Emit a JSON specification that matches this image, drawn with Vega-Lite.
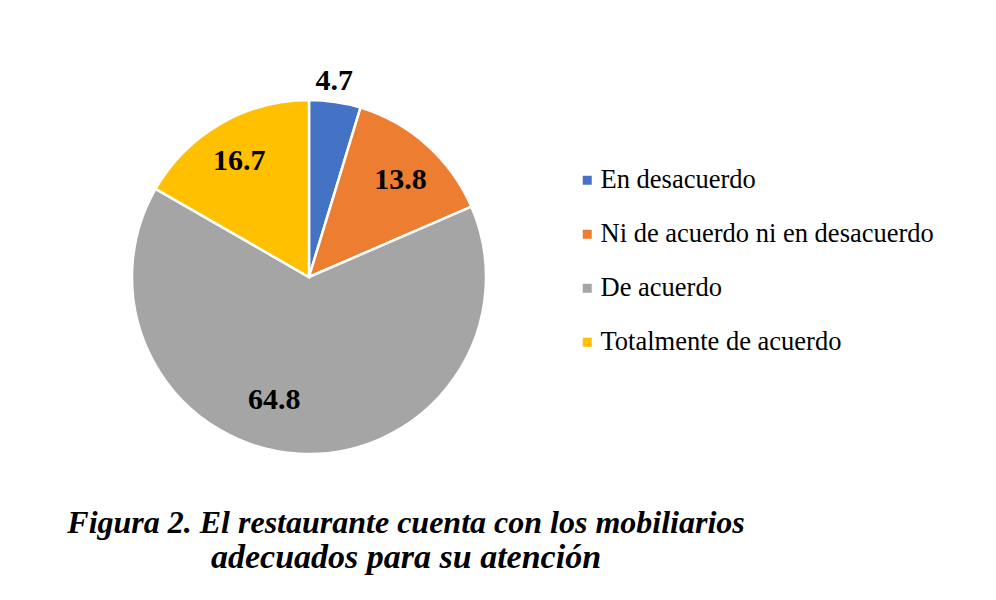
{
  "$schema": "https://vega.github.io/schema/vega-lite/v6.json",
  "autosize": "none",
  "width": 596,
  "height": 530,
  "padding": {"left": 11, "top": 12, "right": 389, "bottom": 58},
  "background": "white",
  "config": {"view": {"stroke": null}},
  "title": {
    "text": "Figura 2. El restaurante cuenta con los mobiliarios",
    "subtitle": "adecuados para su atención",
    "orient": "bottom",
    "anchor": "middle",
    "frame": "group",
    "baseline": "alphabetic",
    "offset": 0,
    "dx": 97,
    "dy": -9,
    "font": "Liberation Serif, Times New Roman, serif",
    "fontSize": 32,
    "fontWeight": "bold",
    "fontStyle": "italic",
    "color": "black",
    "subtitleFont": "Liberation Serif, Times New Roman, serif",
    "subtitleFontSize": 34,
    "subtitleFontWeight": "bold",
    "subtitleFontStyle": "italic",
    "subtitleColor": "black",
    "subtitlePadding": 3
  },
  "data": {
    "values": [
      {"categoria": "En desacuerdo", "valor": 4.7, "orden": 1},
      {"categoria": "Ni de acuerdo ni en desacuerdo", "valor": 13.8, "orden": 2},
      {"categoria": "De acuerdo", "valor": 64.8, "orden": 3},
      {"categoria": "Totalmente de acuerdo", "valor": 16.7, "orden": 4}
    ]
  },
  "encoding": {
    "theta": {"field": "valor", "type": "quantitative", "stack": true},
    "order": {"field": "orden", "type": "quantitative"}
  },
  "layer": [
    {
      "mark": {"type": "arc", "outerRadius": 177, "stroke": "white", "strokeWidth": 2.5},
      "encoding": {
        "color": {
          "field": "categoria",
          "type": "nominal",
          "sort": ["En desacuerdo", "Ni de acuerdo ni en desacuerdo", "De acuerdo", "Totalmente de acuerdo"],
          "scale": {
            "domain": ["En desacuerdo", "Ni de acuerdo ni en desacuerdo", "De acuerdo", "Totalmente de acuerdo"],
            "range": ["#4472C4", "#ED7D31", "#A5A5A5", "#FFC000"]
          },
          "legend": {
            "title": null,
            "orient": "none",
            "legendX": 563,
            "legendY": 155,
            "padding": 0,
            "symbolType": "square",
            "symbolSize": 81,
            "symbolStrokeWidth": 0,
            "labelFont": "Liberation Serif, Times New Roman, serif",
            "labelFontSize": 26.5,
            "labelColor": "black",
            "labelOffset": 0,
            "labelLimit": 500,
            "rowPadding": 27
          }
        }
      }
    },
    {
      "mark": {"type": "text", "radius": 198, "thetaOffset": -0.02, "font": "Liberation Serif, Times New Roman, serif", "fontSize": 30, "fontWeight": "bold", "color": "black"},
      "encoding": {
        "text": {"field": "valor", "type": "quantitative", "format": ".1f"},
        "opacity": {"condition": {"test": "datum.categoria === 'En desacuerdo'", "value": 1}, "value": 0}
      }
    },
    {
      "mark": {"type": "text", "radius": 133, "thetaOffset": 0.03, "font": "Liberation Serif, Times New Roman, serif", "fontSize": 30, "fontWeight": "bold", "color": "black"},
      "encoding": {
        "text": {"field": "valor", "type": "quantitative", "format": ".1f"},
        "opacity": {"condition": {"test": "datum.categoria === 'Ni de acuerdo ni en desacuerdo'", "value": 1}, "value": 0}
      }
    },
    {
      "mark": {"type": "text", "radius": 128, "thetaOffset": 0.218, "font": "Liberation Serif, Times New Roman, serif", "fontSize": 30, "fontWeight": "bold", "color": "black"},
      "encoding": {
        "text": {"field": "valor", "type": "quantitative", "format": ".1f"},
        "opacity": {"condition": {"test": "datum.categoria === 'De acuerdo'", "value": 1}, "value": 0}
      }
    },
    {
      "mark": {"type": "text", "radius": 135, "thetaOffset": -0.018, "font": "Liberation Serif, Times New Roman, serif", "fontSize": 30, "fontWeight": "bold", "color": "black"},
      "encoding": {
        "text": {"field": "valor", "type": "quantitative", "format": ".1f"},
        "opacity": {"condition": {"test": "datum.categoria === 'Totalmente de acuerdo'", "value": 1}, "value": 0}
      }
    }
  ]
}
